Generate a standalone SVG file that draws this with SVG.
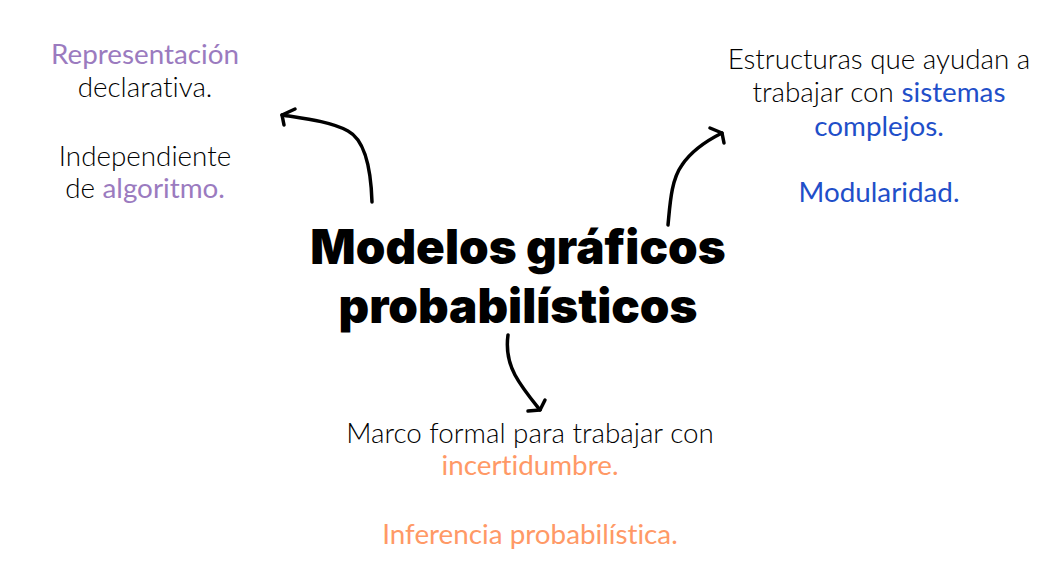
<svg xmlns="http://www.w3.org/2000/svg" width="1059" height="581" viewBox="0 0 1059 581">
<style>
.t{font-family:Lato,"Open Sans","DejaVu Sans",sans-serif;font-size:27.8px;font-weight:300;fill:#000;text-anchor:middle;font-variant-ligatures:none}
.p{fill:#9b7bbf;font-weight:400}
.b{fill:#1f4fc9;font-weight:400}
.o{fill:#ff9966;font-weight:400}
.title{font-family:Inter,Roboto,"Liberation Sans",sans-serif;font-size:47.5px;font-weight:900;fill:#000;text-anchor:middle}
.c{fill:none;stroke:#000;stroke-width:3.5;stroke-linecap:round;stroke-linejoin:round}
</style>
<rect width="1059" height="581" fill="#fff"/>
<g id="title">
<text class="title" x="518" y="264">Modelos gráficos</text>
<text class="title" x="518" y="323">probabilísticos</text>
</g>
<g id="left">
<text class="t" x="145" y="64"><tspan class="p">Representación</tspan></text>
<text class="t" x="145" y="97">declarativa.</text>
<text class="t" x="145" y="166">Independiente</text>
<text class="t" x="145" y="198">de <tspan class="p">algoritmo.</tspan></text>
</g>
<g id="right">
<text class="t" x="879" y="69">Estructuras que ayudan a</text>
<text class="t" x="879" y="102">trabajar con <tspan class="b">sistemas</tspan></text>
<text class="t" x="879" y="136"><tspan class="b">complejos.</tspan></text>
<text class="t" x="879" y="202"><tspan class="b">Modularidad.</tspan></text>
</g>
<g id="bottom">
<text class="t" x="530" y="443">Marco formal para trabajar con</text>
<text class="t" x="530" y="475"><tspan class="o">incertidumbre.</tspan></text>
<text class="t" x="530" y="544"><tspan class="o">Inferencia probabilística.</tspan></text>
</g>
<g id="connectors">
<path class="c" d="M372 202 C371 170 365 140 348 131 C330 121 300 118 282 115"/>
<path class="c" d="M295 109 L282 115 L284 125"/>
<path class="c" d="M668 225 C670 205 671 180 682 165 C692 150 708 140 722 133"/>
<path class="c" d="M710 128 L722 133 L724 143"/>
<path class="c" d="M508 335 C506 350 508 362 515 375 C522 388 532 400 540 410"/>
<path class="c" d="M528 411 L540 410 L545 400"/>
</g>
</svg>
